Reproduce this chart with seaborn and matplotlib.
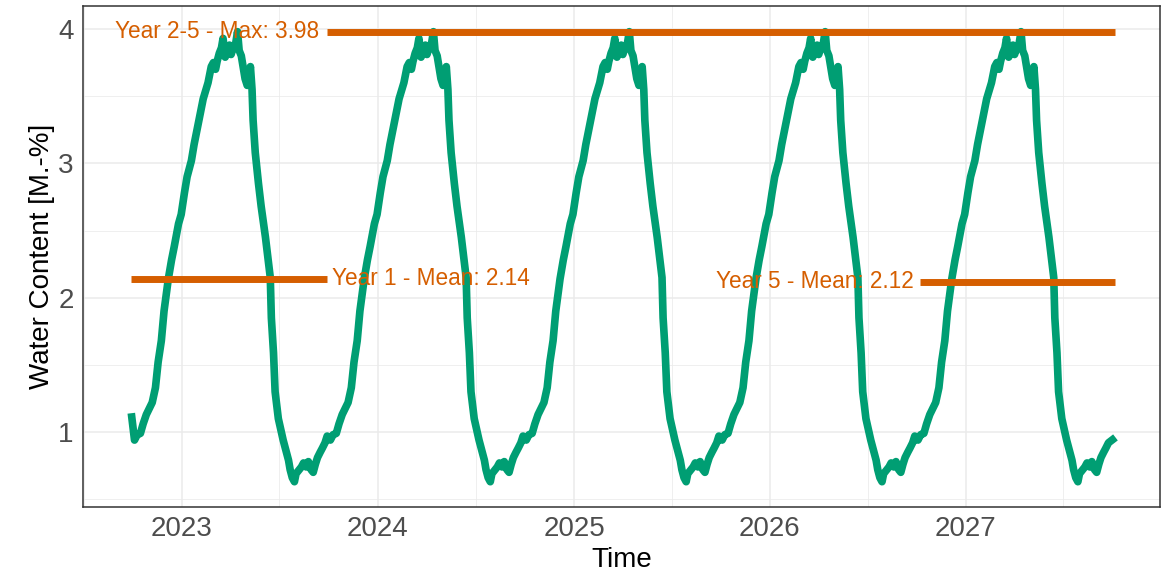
import matplotlib
matplotlib.use("Agg")
import matplotlib.pyplot as plt
import matplotlib.dates as mdates
import pandas as pd
import seaborn as sns

# one season of water content (day within season -> value)
season_day = [0, 6, 11, 17, 22, 28, 34, 39, 45, 50, 56, 61, 69, 75, 80, 88, 93, 99,
              104, 112, 117, 123, 129, 134, 140, 143, 149, 153, 157, 160, 164, 168,
              171, 175, 179, 183, 186, 190, 194, 198, 201, 205, 209, 212, 216, 220,
              222, 225, 227, 231, 237, 242, 250, 255, 259, 261, 265, 268, 274, 283,
              289, 293, 296, 300, 304, 307, 311, 317, 321, 326, 330, 335, 339, 343,
              347, 352, 356, 361]
season_value = [0.97, 0.94, 0.98, 0.99, 1.06, 1.13, 1.18, 1.22, 1.33, 1.52, 1.68, 1.90,
                2.14, 2.28, 2.38, 2.55, 2.62, 2.78, 2.90, 3.02, 3.14, 3.26, 3.38, 3.48,
                3.56, 3.60, 3.72, 3.75, 3.70, 3.76, 3.82, 3.86, 3.93, 3.79, 3.84, 3.88,
                3.81, 3.86, 3.88, 3.98, 3.84, 3.80, 3.70, 3.63, 3.58, 3.66, 3.72, 3.55,
                3.32, 3.08, 2.85, 2.68, 2.45, 2.28, 2.15, 1.85, 1.59, 1.30, 1.10, 0.94,
                0.85, 0.79, 0.72, 0.66, 0.63, 0.69, 0.71, 0.74, 0.77, 0.74, 0.78, 0.72,
                0.70, 0.76, 0.81, 0.85, 0.88, 0.92]
n_seasons = 5
series_start = "2022-09-29"
first_value = 1.14
last_day = 1834
last_value = 0.96

year1_mean = 2.14
year5_mean = 2.12
years25_max = 3.98

green = "#009E73"
orange = "#D55E00"

start = pd.Timestamp(series_start)
days, values = [], []
for k in range(n_seasons):
    days += [k * 365 + d for d in season_day]
    values += season_value
values[0] = first_value
days.append(last_day)
values.append(last_value)
df = pd.DataFrame({"Time": start + pd.to_timedelta(days, unit="D"), "Water": values})

end = df["Time"].iloc[-1]
year1_end = start + pd.Timedelta(days=365)
year5_start = end - pd.Timedelta(days=365)

sns.set_style("white")
plt.rcParams["font.family"] = ["Liberation Sans", "DejaVu Sans"]

fig = plt.figure(figsize=(11.61, 5.74), dpi=100)
ax = fig.add_axes([83 / 1161, 67 / 574, 1077 / 1161, 501 / 574])

sns.lineplot(data=df, x="Time", y="Water", color=green, linewidth=5.5, ax=ax,
             solid_joinstyle="round", solid_capstyle="butt", zorder=3)

ax.hlines(year1_mean, start, year1_end, color=orange, linewidth=5, capstyle="butt", zorder=4)
ax.hlines(years25_max, year1_end, end, color=orange, linewidth=5, capstyle="butt", zorder=4)
ax.hlines(year5_mean, year5_start, end, color=orange, linewidth=5, capstyle="butt", zorder=4)

ax.annotate(f"Year 2-5 - Max: {years25_max:.2f}", xy=(year1_end, years25_max),
            xytext=(-5.5, 0), textcoords="offset points", ha="right", va="center",
            color=orange, fontsize=16.3, zorder=5)
ax.annotate(f"Year 1 - Mean: {year1_mean:.2f}", xy=(year1_end, year1_mean),
            xytext=(3.5, 0), textcoords="offset points", ha="left", va="center",
            color=orange, fontsize=16.3, zorder=5)
ax.annotate(f"Year 5 - Mean: {year5_mean:.2f}", xy=(year5_start, year5_mean),
            xytext=(-4.5, 0), textcoords="offset points", ha="right", va="center",
            color=orange, fontsize=16.3, zorder=5)

left = pd.Timestamp("2022-07-01")
ax.set_xlim(left, left + pd.Timedelta(days=2007))
ax.set_ylim(0.442, 4.171)

ax.xaxis.set_major_locator(mdates.YearLocator())
ax.xaxis.set_major_formatter(mdates.DateFormatter("%Y"))
ax.xaxis.set_minor_locator(mdates.MonthLocator(bymonth=7, bymonthday=2))
ax.set_yticks([1, 2, 3, 4])
ax.set_yticks([0.5, 1.5, 2.5, 3.5], minor=True)

ax.grid(which="major", color="#EBEBEB", linewidth=1.1, zorder=0)
ax.grid(which="minor", color="#EBEBEB", linewidth=0.55, zorder=0)
ax.set_axisbelow(True)
for s in ax.spines.values():
    s.set_color("#333333")
    s.set_linewidth(1.1)

ax.tick_params(which="major", length=3.8, width=1.1, color="#333333", pad=3,
               labelsize=20, labelcolor="#4D4D4D")
ax.tick_params(which="minor", length=0)
ax.set_xlabel("Time", fontsize=20, color="black", labelpad=3)
ax.set_ylabel("Water Content [M.-%]", fontsize=20, color="black", labelpad=2.5)

fig.savefig("out.png", dpi=100)
